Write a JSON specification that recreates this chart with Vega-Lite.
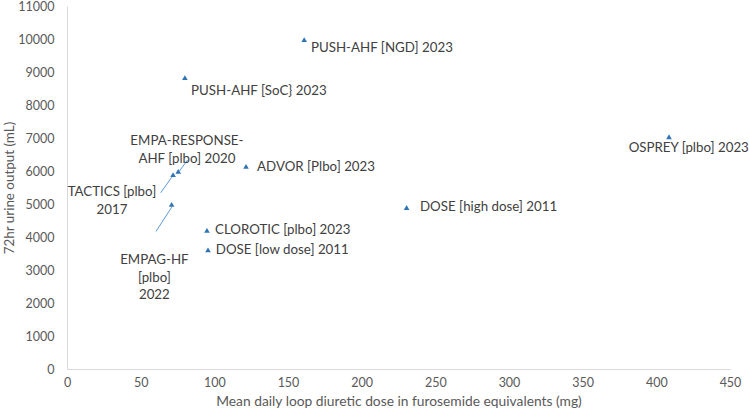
{
  "$schema": "https://vega.github.io/schema/vega-lite/v6.json",
  "width": 663,
  "height": 363,
  "autosize": "none",
  "padding": {"left": 67, "top": 6, "right": 19, "bottom": 48},
  "config": {
    "view": {"stroke": null},
    "font": "Lato",
    "axis": {
      "grid": false,
      "ticks": false,
      "domainColor": "#d9d9d9",
      "domainWidth": 1,
      "labelColor": "#595959",
      "labelFont": "Lato",
      "labelFontSize": 12.5,
      "titleColor": "#595959",
      "titleFont": "Lato",
      "titleFontSize": 13.8,
      "titleFontWeight": "normal"
    },
    "axisY": {"titleFontSize": 13.4}
  },
  "datasets": {
    "studies": [
      {"study": "PUSH-AHF [NGD]", "dose": 161, "urine": 9980, "label": "PUSH-AHF [NGD] 2023", "lx": 165.6, "ly": 9730},
      {"study": "PUSH-AHF [SoC]", "dose": 80, "urine": 8830, "label": "PUSH-AHF [SoC} 2023", "lx": 84.2, "ly": 8430},
      {"study": "EMPA-RESPONSE-AHF", "dose": 75.5, "urine": 5990, "label": "EMPA-RESPONSE-\nAHF [plbo] 2020", "lx": 81.4, "ly": 6900},
      {"study": "TACTICS", "dose": 72, "urine": 5890, "label": "TACTICS [plbo]\n2017", "lx": 30.5, "ly": 5350},
      {"study": "EMPAG-HF", "dose": 71, "urine": 4990, "label": "EMPAG-HF\n[plbo]\n2022", "lx": 59.3, "ly": 3294},
      {"study": "ADVOR", "dose": 121.5, "urine": 6140, "label": "ADVOR [Plbo] 2023", "lx": 129, "ly": 6114},
      {"study": "CLOROTIC", "dose": 95, "urine": 4200, "label": "CLOROTIC [plbo] 2023", "lx": 100.5, "ly": 4200},
      {"study": "DOSE [low dose]", "dose": 95.7, "urine": 3610, "label": "DOSE [low dose] 2011", "lx": 101, "ly": 3600},
      {"study": "DOSE [high dose]", "dose": 230.5, "urine": 4895, "label": "DOSE [high dose] 2011", "lx": 239.6, "ly": 4896},
      {"study": "OSPREY", "dose": 408.6, "urine": 7040, "label": "OSPREY [plbo] 2023", "lx": 422, "ly": 6700}
    ],
    "leaders": [
      {"study": "TACTICS", "x1": 63.6, "y1": 5340, "x2": 71.1, "y2": 5811},
      {"study": "EMPA-RESPONSE-AHF", "x1": 76.2, "y1": 5993, "x2": 81.9, "y2": 6337},
      {"study": "EMPAG-HF", "x1": 60.4, "y1": 4170, "x2": 71.1, "y2": 4905}
    ]
  },
  "layer": [
    {
      "data": {"name": "studies"},
      "mark": {"type": "point", "shape": "triangle-up", "filled": true, "size": 32, "color": "#2E75B6", "opacity": 1},
      "encoding": {
        "x": {"field": "dose", "type": "quantitative", "scale": {"domain": [0, 450], "nice": false, "zero": true},
              "axis": {"values": [0, 50, 100, 150, 200, 250, 300, 350, 400, 450], "tickCount": 20, "labelOverlap": false, "labelFlush": false, "labelPadding": 7, "title": "Mean daily loop diuretic dose in furosemide equivalents (mg)", "titlePadding": 6}},
        "y": {"field": "urine", "type": "quantitative", "scale": {"domain": [0, 11000], "nice": false},
              "axis": {"values": [0, 1000, 2000, 3000, 4000, 5000, 6000, 7000, 8000, 9000, 10000, 11000], "tickCount": 20, "labelOverlap": false, "labelFlush": false, "format": "d", "labelPadding": 13, "title": "72hr urine output (mL)", "titlePadding": 1}}
      }
    },
    {
      "data": {"name": "leaders"},
      "mark": {"type": "rule", "color": "#5B9BD5", "strokeWidth": 1},
      "encoding": {
        "x": {"field": "x1", "type": "quantitative"},
        "y": {"field": "y1", "type": "quantitative"},
        "x2": {"field": "x2"},
        "y2": {"field": "y2"}
      }
    },
    {
      "data": {"name": "studies"},
      "transform": [{"filter": {"field": "study", "oneOf": ["PUSH-AHF [NGD]", "PUSH-AHF [SoC]", "ADVOR", "CLOROTIC", "DOSE [low dose]", "DOSE [high dose]"]}}],
      "mark": {"type": "text", "align": "left", "baseline": "middle", "fontSize": 13.3, "color": "#404040", "font": "Lato"},
      "encoding": {
        "x": {"field": "lx", "type": "quantitative"},
        "y": {"field": "ly", "type": "quantitative"},
        "text": {"field": "label"}
      }
    },
    {
      "data": {"name": "studies"},
      "transform": [{"filter": {"field": "study", "oneOf": ["OSPREY", "EMPA-RESPONSE-AHF", "TACTICS", "EMPAG-HF"]}}],
      "mark": {"type": "text", "align": "center", "baseline": "middle", "fontSize": 13.3, "color": "#404040", "font": "Lato", "lineBreak": "\n", "lineHeight": 17.5},
      "encoding": {
        "x": {"field": "lx", "type": "quantitative"},
        "y": {"field": "ly", "type": "quantitative"},
        "text": {"field": "label"}
      }
    }
  ]
}
